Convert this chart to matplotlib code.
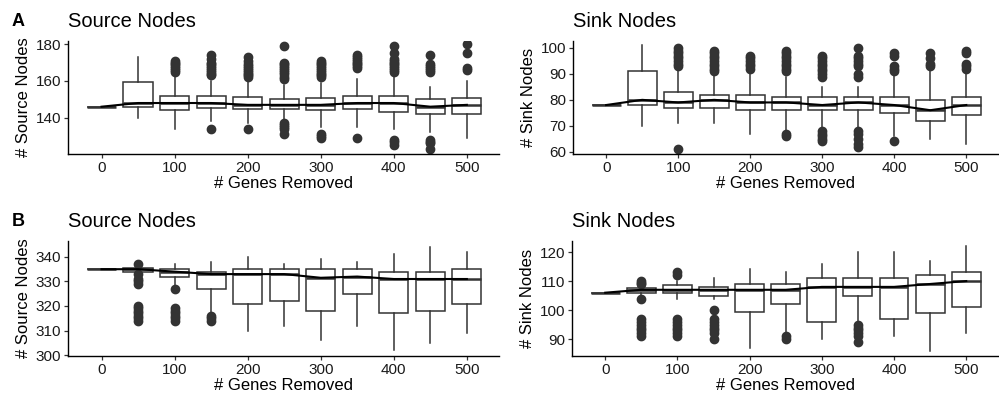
import matplotlib
matplotlib.use('Agg')
import matplotlib.pyplot as plt

plt.rcParams['font.family'] = ['Liberation Sans', 'DejaVu Sans']

genes = [0, 50, 100, 150, 200, 250, 300, 350, 400, 450, 500]

# ---- A: source nodes
a_src_lo = [146, 140, 134, 138, 137, 139, 135, 135, 134, 132, 129]
a_src_q1 = [146, 146, 144, 145.5, 145, 145, 144, 145, 143, 142, 142]
a_src_med = [146, 148, 148, 148, 147, 147, 147, 148, 148, 146, 147]
a_src_q3 = [146, 159.5, 152, 152, 151.5, 150, 151, 152, 152, 150, 151]
a_src_hi = [146, 173, 164, 160, 160, 158, 159, 161, 162, 157, 160]
a_src_out = [[], [],
             [165, 166, 167, 168, 169, 170, 171],
             [134, 163, 164, 165, 166, 167, 168, 169, 170, 172, 174],
             [134, 162, 163, 164, 165, 166, 167, 168, 169, 171, 173],
             [131, 134, 135, 136, 137, 161, 162, 164, 165, 166, 167, 168, 169, 170, 179],
             [129, 130, 131, 162, 163, 164, 165, 166, 167, 168, 169, 170, 171],
             [129, 167, 168, 169, 170, 171, 172, 173, 174],
             [125, 127, 128, 165, 166, 167, 168, 169, 170, 171, 172, 175, 179],
             [123, 126, 127, 128, 165, 166, 167, 168, 169, 174],
             [166, 167, 175, 180]]

# ---- A: sink nodes
a_snk_lo = [78, 70, 71, 71, 67, 68, 69, 69, 66, 65, 63]
a_snk_q1 = [78, 78, 77, 77, 76, 76, 76, 76, 75, 72, 74]
a_snk_med = [78, 80, 79, 80, 79, 79, 78, 79, 78, 76, 78]
a_snk_q3 = [78, 91, 83, 82, 82, 81, 81, 81, 81, 80, 81]
a_snk_hi = [78, 101, 92, 90, 91, 89, 85, 85, 90, 91, 91]
a_snk_out = [[], [],
             [61, 93, 94, 95, 96, 97, 98, 99, 100],
             [91, 92, 93, 94, 95, 96, 97, 98, 99],
             [92, 93, 94, 95, 96, 97],
             [66, 67, 91, 92, 93, 94, 95, 96, 97, 98, 99],
             [64, 65, 66, 67, 68, 89, 90, 91, 92, 93, 94, 95, 96, 97],
             [62, 63, 65, 67, 68, 89, 90, 93, 94, 95, 96, 97, 100],
             [64, 91, 92, 93, 97, 98],
             [93, 94, 96, 98],
             [92, 93, 94, 98, 99]]

# ---- B: source nodes
b_src_lo = [335, 334, 328, 317, 310, 312, 306, 312, 302, 305, 309]
b_src_q1 = [335, 334, 332, 327, 321, 322, 318, 325, 317, 318, 321]
b_src_med = [335, 335, 334, 333, 333, 333, 331.5, 332, 331, 331, 331]
b_src_q3 = [335, 335.5, 335, 334, 335, 335, 335, 335, 334, 334, 335]
b_src_hi = [335, 336, 337, 338, 340, 337, 339, 338, 341, 344, 342]
b_src_out = [[],
             [314, 315, 316, 317, 318, 319, 320, 329, 330, 331, 333, 337],
             [314, 315, 316, 317, 318, 319, 327],
             [314, 315, 316],
             [], [], [], [], [], [], []]

# ---- B: sink nodes
b_snk_lo = [106, 105, 104, 104, 87, 92, 90, 96, 91, 86, 92]
b_snk_q1 = [106, 106, 106, 105, 99.5, 102, 96, 105, 97, 99, 101]
b_snk_med = [106, 107, 107, 107, 107, 107, 108, 108, 108, 109, 110]
b_snk_q3 = [106, 107.5, 108.5, 108, 109, 109, 111, 111, 111, 112, 113]
b_snk_hi = [106, 108, 110, 111, 114, 113, 116, 120, 120, 117, 122]
b_snk_out = [[],
             [91, 92, 93, 94, 95, 96, 97, 104, 109, 109.5, 110],
             [91, 92, 93, 94, 95, 96, 97, 112, 113],
             [90, 92, 93, 94, 95, 96, 97, 100],
             [], [90, 91], [],
             [89, 91, 92, 93, 94, 95], [], [], []]

panels = [
    ('A', 'Source Nodes', '# Source Nodes', a_src_lo, a_src_q1, a_src_med, a_src_q3, a_src_hi, a_src_out,
     (120.2, 181.8), [140, 160, 180], [0.068, 0.613, 0.4315, 0.284]),
    (None, 'Sink Nodes', '# Sink Nodes', a_snk_lo, a_snk_q1, a_snk_med, a_snk_q3, a_snk_hi, a_snk_out,
     (59.1, 102.7), [60, 70, 80, 90, 100], [0.5736, 0.613, 0.4254, 0.284]),
    ('B', 'Source Nodes', '# Source Nodes', b_src_lo, b_src_q1, b_src_med, b_src_q3, b_src_hi, b_src_out,
     (299.6, 346.5), [300, 310, 320, 330, 340], [0.068, 0.1055, 0.4315, 0.289]),
    (None, 'Sink Nodes', '# Sink Nodes', b_snk_lo, b_snk_q1, b_snk_med, b_snk_q3, b_snk_hi, b_snk_out,
     (84.2, 123.8), [90, 100, 110, 120], [0.5726, 0.1055, 0.4264, 0.289]),
]

dark = '#333333'
fig = plt.figure(figsize=(9.99, 3.98), dpi=100)

for tag, title, ylab, lo, q1, med, q3, hi, out, ylim, yticks, pos in panels:
    ax = fig.add_axes(pos)
    stats = []
    for i in range(len(genes)):
        stats.append({'whislo': lo[i], 'q1': q1[i], 'med': med[i], 'q3': q3[i],
                      'whishi': hi[i], 'fliers': out[i]})
    ax.bxp(stats, positions=genes, widths=40, patch_artist=True,
           boxprops=dict(facecolor='white', edgecolor=dark, linewidth=1.1),
           whiskerprops=dict(color=dark, linewidth=1.1),
           capprops=dict(linewidth=0),
           medianprops=dict(color=dark, linewidth=1.8),
           flierprops=dict(marker='o', markerfacecolor=dark, markeredgecolor=dark,
                           markersize=6, linestyle='none'))
    ax.plot(genes, med, color='black', linewidth=1.5, zorder=5)
    ax.set_xlim(-46, 544)
    ax.set_ylim(*ylim)
    ax.set_xticks([0, 100, 200, 300, 400, 500])
    ax.set_xticklabels(['0', '100', '200', '300', '400', '500'])
    ax.set_yticks(yticks)
    for s in ['top', 'right']:
        ax.spines[s].set_visible(False)
    for s in ['left', 'bottom']:
        ax.spines[s].set_linewidth(1.0)
        ax.spines[s].set_color('black')
    ax.tick_params(labelsize=11, colors='#333333', length=3, width=0.9, pad=2)
    ax.tick_params(labelcolor='#1a1a1a')
    ax.set_xlabel('# Genes Removed', fontsize=12, labelpad=1)
    ax.set_ylabel(ylab, fontsize=12, labelpad=3)
    ax.set_title(title, loc='left', fontsize=14.5, pad=10)
    if tag is not None:
        fig.text(0.012, pos[1] + pos[3] + 0.038, tag, fontsize=13, fontweight='bold',
                 va='baseline')

fig.savefig('out.png', dpi=100)
